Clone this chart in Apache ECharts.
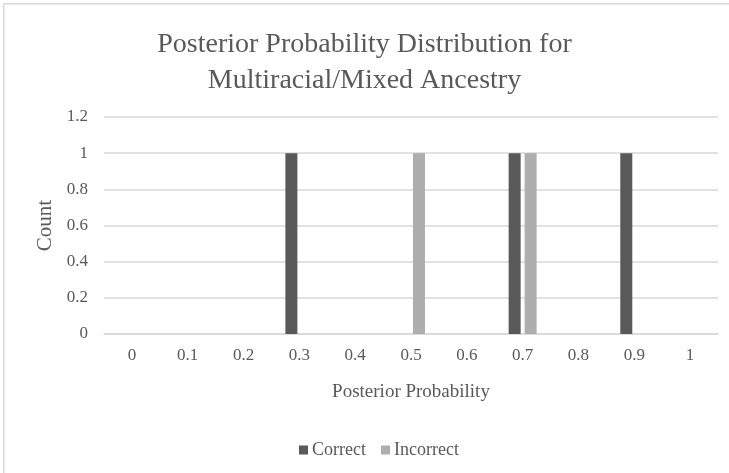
<!DOCTYPE html>
<html>
<head>
<meta charset="utf-8">
<script src="https://cdn.jsdelivr.net/npm/echarts@6/dist/echarts.min.js"></script>
<style>
  html, body { margin: 0; padding: 0; background: #fff; }
  #chart { width: 729px; height: 473px; }
</style>
</head>
<body>
<div id="chart"></div>
<script>
// Histogram bins of posterior probability
const categories = ['0', '0.1', '0.2', '0.3', '0.4', '0.5', '0.6', '0.7', '0.8', '0.9', '1'];
// Counts per bin for each outcome
const correctCounts = [0, 0, 0, 1, 0, 0, 0, 1, 0, 1, 0];
const incorrectCounts = [0, 0, 0, 0, 0, 1, 0, 1, 0, 0, 0];
const seriesNames = ['Correct', 'Incorrect'];
const titleText = 'Posterior Probability Distribution for\nMultiracial/Mixed Ancestry';

const FONT = '"Liberation Serif", "Times New Roman", serif';
const TEXT = '#595959';
const GRID_LINE = '#D9D9D9';

const chart = echarts.init(document.getElementById('chart'), null, { renderer: 'canvas' });
chart.setOption({
  backgroundColor: '#ffffff',
  animation: false,
  textStyle: { fontFamily: FONT, color: TEXT },
  graphic: [{
    type: 'rect',
    shape: { x: 3.75, y: 3.75, width: 760, height: 500 },
    style: { fill: 'none', stroke: GRID_LINE, lineWidth: 1.5 },
    silent: true
  }],
  title: {
    text: titleText,
    left: 'center',
    top: 22,
    textStyle: { fontFamily: FONT, fontSize: 28, fontWeight: 'normal', color: TEXT, lineHeight: 36 }
  },
  legend: {
    data: seriesNames,
    left: 294,
    top: 436,
    itemWidth: 9,
    itemHeight: 9,
    itemGap: 15,
    icon: 'rect',
    textStyle: { fontFamily: FONT, fontSize: 18, color: TEXT, padding: [0, 0, 0, -1] }
  },
  grid: { left: 104, right: 11, top: 117, bottom: 139 },
  xAxis: {
    type: 'category',
    data: categories,
    boundaryGap: true,
    name: 'Posterior Probability',
    nameLocation: 'middle',
    nameGap: 49,
    nameTextStyle: { fontFamily: FONT, fontSize: 19, color: TEXT },
    axisLine: { lineStyle: { color: GRID_LINE, width: 1.5 } },
    axisTick: { show: false },
    axisLabel: { fontFamily: FONT, fontSize: 17, color: TEXT, margin: 13 }
  },
  yAxis: {
    type: 'value',
    min: 0,
    max: 1.2,
    interval: 0.2,
    name: 'Count',
    nameLocation: 'middle',
    nameGap: 43,
    nameTextStyle: { fontFamily: FONT, fontSize: 21, color: TEXT },
    axisLine: { show: false },
    axisTick: { show: false },
    axisLabel: {
      fontFamily: FONT, fontSize: 17, color: TEXT, margin: 16,
      formatter: v => String(Math.round(v * 10) / 10)
    },
    splitLine: { lineStyle: { color: GRID_LINE, width: 1.5 } }
  },
  series: [
    {
      name: seriesNames[0],
      type: 'bar',
      data: correctCounts,
      barWidth: 12,
      barGap: '33%',
      itemStyle: { color: '#595959' }
    },
    {
      name: seriesNames[1],
      type: 'bar',
      data: incorrectCounts,
      barWidth: 12,
      barGap: '33%',
      itemStyle: { color: '#AEAEAE' }
    }
  ]
});
</script>
</body>
</html>
